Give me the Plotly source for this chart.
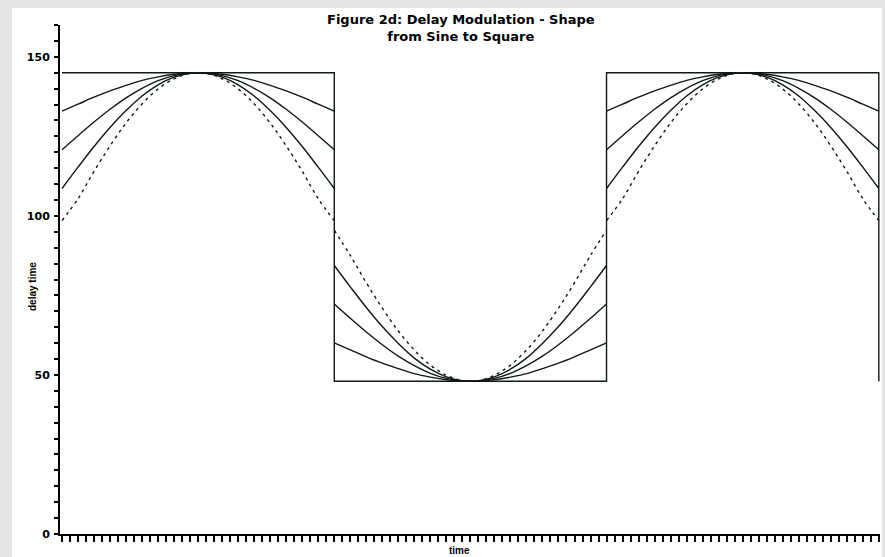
import plotly.graph_objects as go

# ---- data ----
time_seg1 = [0, 2, 4, 6, 8, 10, 12, 14, 16, 18, 20, 22, 24, 26, 28, 30, 32, 34]
time_seg2 = [34, 36, 38, 40, 42, 44, 46, 48, 50, 52, 54, 56, 58, 60, 62, 64, 66, 68]
time_seg3 = [68, 70, 72, 74, 76, 78, 80, 82, 84, 86, 88, 90, 92, 94, 96, 98, 100, 102]

# sine (dashed)
sine_high = [98.5, 105.4, 114.0, 122.0, 129.2, 135.2, 139.9, 143.1, 144.8,
             144.8, 143.1, 139.9, 135.2, 129.2, 122.0, 114.0, 105.4, 98.5]
sine_low = [95.5, 87.6, 79.0, 71.0, 63.8, 57.8, 53.1, 49.9, 48.2,
            48.2, 49.9, 53.1, 57.8, 63.8, 71.0, 79.0, 87.6, 95.5]
# shape 1 (closest to sine)
shape1_high = [108.6, 115.3, 121.8, 127.8, 133.1, 137.7, 141.2, 143.6, 144.8,
               144.8, 143.6, 141.2, 137.7, 133.1, 127.8, 121.8, 115.3, 108.6]
shape1_low = [84.4, 77.7, 71.2, 65.2, 59.9, 55.3, 51.8, 49.4, 48.2,
              48.2, 49.4, 51.8, 55.3, 59.9, 65.2, 71.2, 77.7, 84.4]
# shape 2
shape2_high = [120.8, 125.2, 129.5, 133.5, 137.1, 140.1, 142.5, 144.1, 144.9,
               144.9, 144.1, 142.5, 140.1, 137.1, 133.5, 129.5, 125.2, 120.8]
shape2_low = [72.3, 67.8, 63.5, 59.5, 55.9, 52.9, 50.5, 48.9, 48.1,
              48.1, 48.9, 50.5, 52.9, 55.9, 59.5, 63.5, 67.8, 72.3]
# shape 3 (closest to square)
shape3_high = [132.9, 135.1, 137.3, 139.3, 141.0, 142.6, 143.7, 144.5, 144.9,
               144.9, 144.5, 143.7, 142.6, 141.0, 139.3, 137.3, 135.1, 132.9]
shape3_low = [60.1, 57.9, 55.7, 53.7, 52.0, 50.4, 49.3, 48.5, 48.1,
              48.1, 48.5, 49.3, 50.4, 52.0, 53.7, 55.7, 57.9, 60.1]

# square wave
square_time = [0, 34, 34, 68, 68, 102, 102]
square_vals = [145, 145, 48, 48, 145, 145, 48]

y_tick_vals = [0, 50, 100, 150]
y_tick_text = ["0", "50", "100", "150"]

title_text = "Figure 2d: Delay Modulation - Shape<br>from Sine to Square"
x_title = "time"
y_title = "delay time"

# ---- figure ----
time_all = time_seg1 + [None] + time_seg2 + [None] + time_seg3

def series(high, low):
    return high + [None] + low + [None] + high

ink = "#101818"
fig = go.Figure()

for hi, lo in [(shape1_high, shape1_low), (shape2_high, shape2_low), (shape3_high, shape3_low)]:
    fig.add_trace(go.Scatter(x=time_all, y=series(hi, lo), mode="lines",
                             line=dict(color=ink, width=1.4, shape="spline"),
                             connectgaps=False, showlegend=False, hoverinfo="skip"))

fig.add_trace(go.Scatter(x=time_all, y=series(sine_high, sine_low), mode="lines",
                         line=dict(color=ink, width=1.4, shape="spline", dash="3px,4px"),
                         connectgaps=False, showlegend=False, hoverinfo="skip"))

fig.add_trace(go.Scatter(x=square_time, y=square_vals, mode="lines",
                         line=dict(color=ink, width=1.4),
                         showlegend=False, hoverinfo="skip", cliponaxis=False))

L, R, T, B = 60, 5, 25, 23
W, H = 885, 557
pw, ph = W - L - R, H - T - B

def px_x(px):
    return (px - L) / pw

def px_y(py):
    return (H - B - py) / ph

fig.add_shape(type="rect", xref="paper", yref="paper",
              x0=px_x(12), x1=px_x(882), y0=px_y(557), y1=px_y(8),
              fillcolor="white", line=dict(width=0), layer="below")

font_fam = "DejaVu Sans, Arial, sans-serif"
font_small = "Liberation Sans, Arial, sans-serif"

fig.update_layout(
    width=W, height=H,
    margin=dict(l=L, r=R, t=T, b=B),
    paper_bgcolor="#e3e3e3",
    plot_bgcolor="white",
    showlegend=False,
    font=dict(family=font_fam, color="black"),
)

fig.add_annotation(text="<b>" + title_text + "</b>", xref="paper", yref="paper",
                   x=px_x(461), y=px_y(28), xanchor="center", yanchor="middle",
                   showarrow=False, font=dict(size=13, family=font_fam, color="black"),
                   align="center")
fig.add_annotation(text="<b>" + x_title + "</b>", xref="paper", yref="paper",
                   x=px_x(459), y=px_y(550), xanchor="center", yanchor="middle",
                   showarrow=False, font=dict(size=10, family=font_small, color="black"))
fig.add_annotation(text="<b>" + y_title + "</b>", xref="paper", yref="paper",
                   x=px_x(33), y=px_y(287), xanchor="center", yanchor="middle",
                   textangle=-90, showarrow=False,
                   font=dict(size=10, family=font_small, color="black"))

fig.update_xaxes(range=[-0.25, 102.15], showgrid=False, zeroline=False,
                 showline=True, linecolor="black", linewidth=2,
                 ticks="outside", tick0=0, dtick=1, ticklen=6, tickwidth=2,
                 tickcolor="black", showticklabels=False)
fig.update_yaxes(range=[0, 160], showgrid=False, zeroline=False,
                 showline=True, linecolor="black", linewidth=2,
                 tickmode="array", tickvals=y_tick_vals, ticktext=y_tick_text,
                 ticks="outside", ticklen=4, tickwidth=2, tickcolor="black",
                 tickfont=dict(size=11, family=font_fam, color="black", weight="bold"),
                 ticklabelstandoff=2,
                 minor=dict(dtick=5, tick0=0, ticks="outside", ticklen=4,
                            tickwidth=1.5, tickcolor="black"))

fig.write_html("out.html")
